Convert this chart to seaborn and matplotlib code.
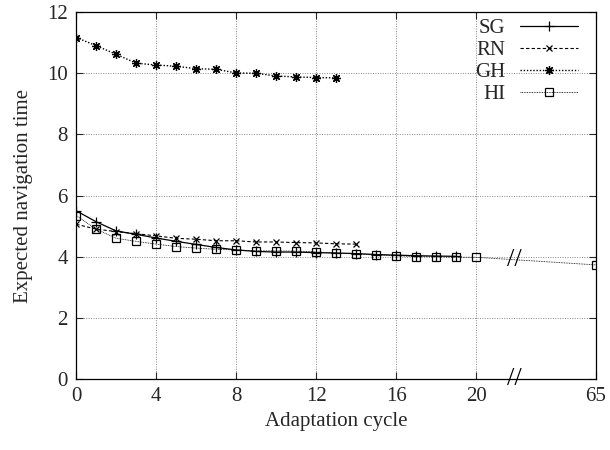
import numpy as np
import pandas as pd
import matplotlib
matplotlib.use("Agg")
import matplotlib.pyplot as plt
import seaborn as sns

# data
cycles_sg = list(range(0, 20))
sg = [5.50, 5.14, 4.84, 4.73, 4.61, 4.50, 4.40, 4.30, 4.22, 4.17,
      4.15, 4.15, 4.13, 4.12, 4.10, 4.07, 4.05, 4.03, 4.02, 4.01]

cycles_rn = list(range(0, 15))
rn = [5.06, 4.90, 4.82, 4.75, 4.68, 4.60, 4.57, 4.52, 4.52, 4.48,
      4.48, 4.46, 4.45, 4.42, 4.41]

cycles_gh = list(range(0, 14))
gh = [11.17, 10.90, 10.62, 10.33, 10.27, 10.23, 10.15, 10.13, 10.01, 10.00,
      9.91, 9.88, 9.86, 9.85]

cycles_hi = list(range(0, 21)) + [65]
hi = [5.34, 4.90, 4.60, 4.50, 4.41, 4.33, 4.28, 4.24, 4.22, 4.19,
      4.19, 4.18, 4.16, 4.11, 4.09, 4.05, 4.03, 4.00, 4.00, 3.98,
      3.98, 3.73]

x_ticks = [0, 4, 8, 12, 16, 20, 65]
y_ticks = [0, 2, 4, 6, 8, 10, 12]

# broken x axis: 0..20 linear, tail squeezed so that 65 sits at 26
BREAK_FROM, TAIL_END, TAIL_POS = 20, 65, 26


def axis_pos(x):
    x = np.asarray(x, dtype=float)
    tail = BREAK_FROM + (x - BREAK_FROM) * (TAIL_POS - BREAK_FROM) / (TAIL_END - BREAK_FROM)
    return np.where(x <= BREAK_FROM, x, tail)


sns.set_style("ticks")
plt.rcParams["font.family"] = ["Liberation Serif", "DejaVu Serif"]
FS = 15

fig = plt.figure(figsize=(6.1, 4.5), dpi=100)
ax = fig.add_axes([0.125, 0.158, 0.852, 0.815])

# name, x, y, line style, marker, marker size, line width
series = [
    ("SG", cycles_sg, sg, "-", "+", 6.5, 0.9),
    ("RN", cycles_rn, rn, (0, (3, 2)), "x", 4.5, 0.8),
    ("GH", cycles_gh, gh, (0, (1, 1.3)), (8, 2, 0), 6.5, 1.0),
    ("HI", cycles_hi, hi, (0, (1, 1)), "s", 5.5, 0.6),
]

handles = []
for name, xs, ys, ls, mk, ms, lw in series:
    df = pd.DataFrame({"pos": axis_pos(xs), "val": ys})
    sns.lineplot(data=df, x="pos", y="val", ax=ax, color="black", legend=False)
    line = ax.lines[-1]
    line.set_linestyle(ls)
    line.set_linewidth(lw)
    line.set_marker(mk)
    line.set_markersize(ms)
    line.set_markeredgewidth(0.9)
    line.set_markeredgecolor("black")
    line.set_markerfacecolor("none")
    line.set_label(name)
    handles.append(line)

ax.set_xlim(0, TAIL_POS)
ax.set_ylim(0, 12)
ax.set_xticks(axis_pos(x_ticks))
ax.set_xticklabels([str(t) for t in x_ticks])
ax.set_yticks(y_ticks)
ax.grid(True, color="#888888", linestyle=(0, (1, 1.5)), linewidth=0.7)
ax.tick_params(direction="in", top=True, right=True, length=5, width=0.8,
               labelsize=FS, pad=6)
for sp in ax.spines.values():
    sp.set_linewidth(0.9)
    sp.set_color("black")

ax.set_xlabel("Adaptation cycle", fontsize=FS, labelpad=4)
ax.set_ylabel("Expected navigation time", fontsize=FS, labelpad=10)

# break marks on the axis and on the HI tail
brk = 21.9
y_line = np.interp(brk, axis_pos(cycles_hi[-2:]), hi[-2:])
for yv in (0, y_line):
    ax.text(brk, yv, "//", ha="center", va="center", fontsize=19,
            clip_on=False, zorder=5, color="black")

ax.legend(handles=handles, loc="upper right", bbox_to_anchor=(0.978, 1.0),
          frameon=False, markerfirst=False,
          handlelength=2.8, handletextpad=0.7, labelspacing=0.12,
          fontsize=FS, borderaxespad=0.05, borderpad=0.25)

fig.savefig("out.png", dpi=100)
